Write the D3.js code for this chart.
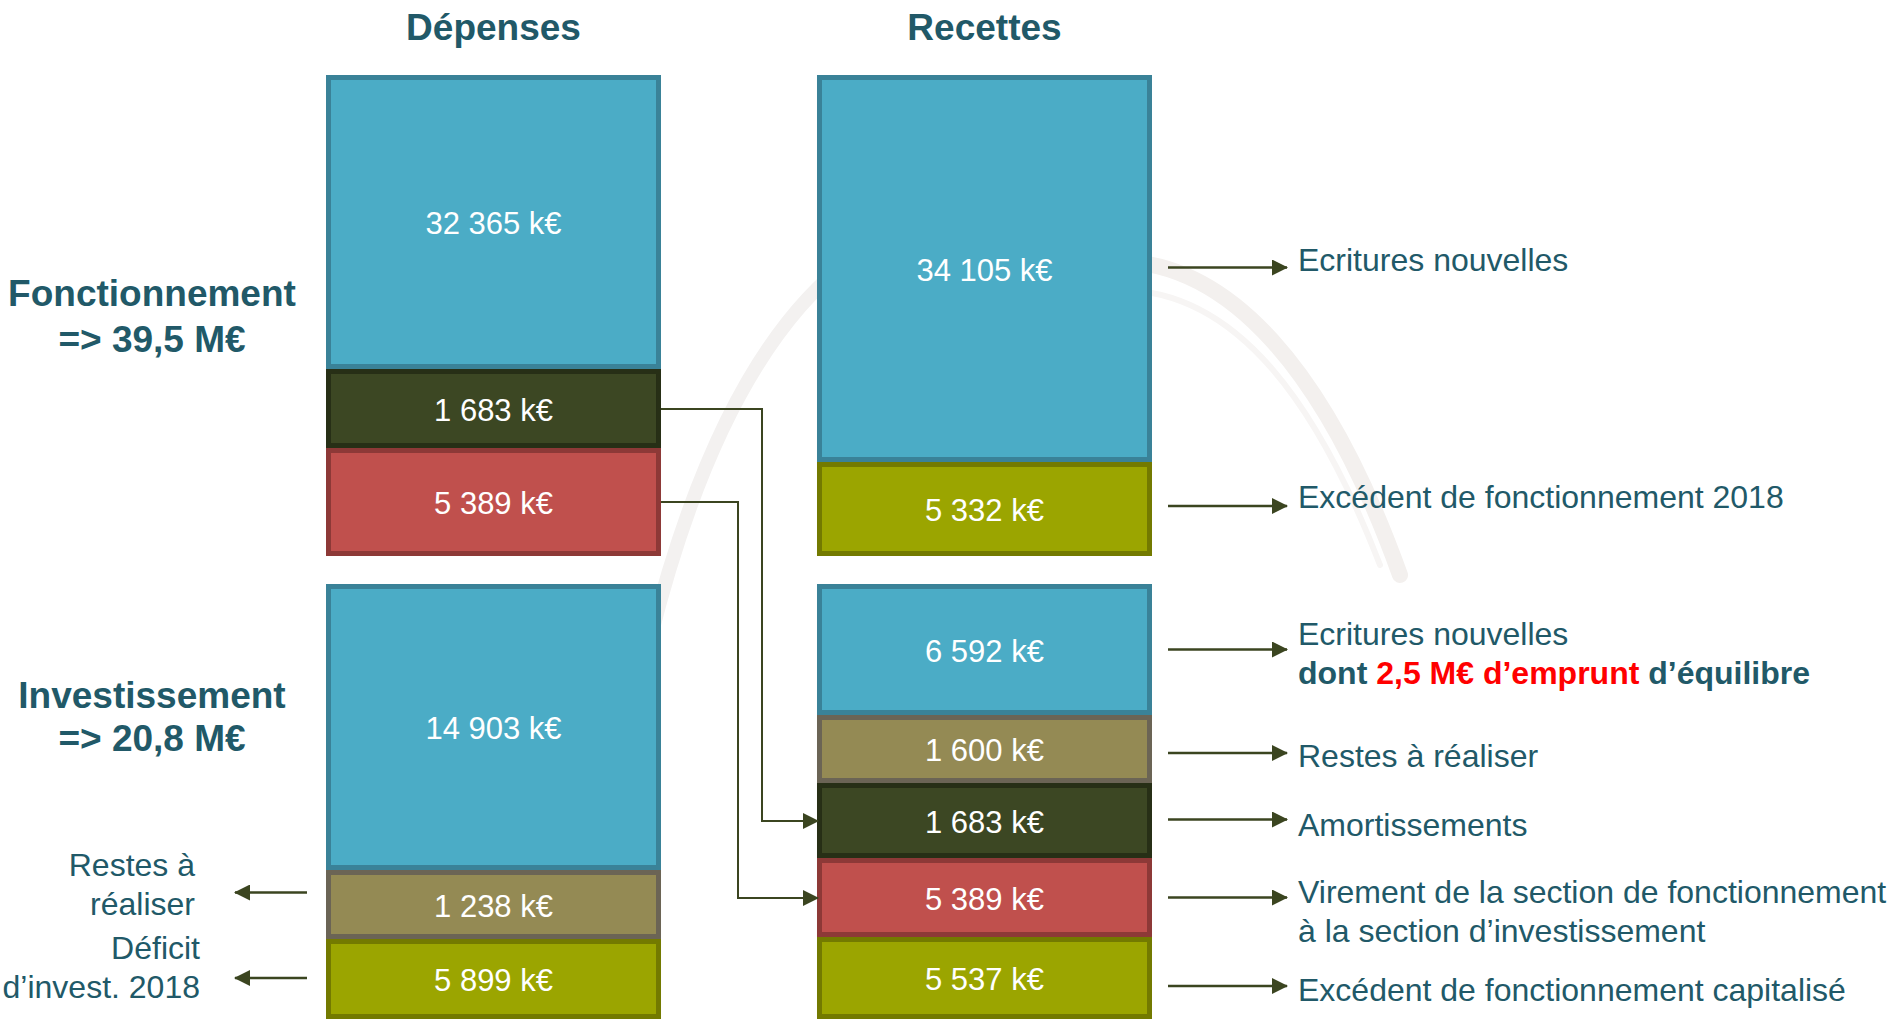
<!DOCTYPE html>
<meta charset="utf-8">
<title>Budget</title>
<style>
body { margin: 0; background: #fff; }
svg { display: block; font-family: "Liberation Sans", Arial, sans-serif; }
.val { fill: #fff; font-size: 31px; text-anchor: middle; }
.head { fill: #215968; font-size: 37px; font-weight: bold; text-anchor: middle; }
.note { fill: #215968; font-size: 32px; }
</style>
<svg></svg>
<script src="https://d3js.org/d3.v7.min.js"></script>
<script>
// columns / sections
var columns = ["Dépenses", "Recettes"];
var sections = ["Fonctionnement", "Investissement"];
var sectionTotals = ["=> 39,5 M€", "=> 20,8 M€"];

// values, k€
var depFonc = [32365, 1683, 5389];
var recFonc = [34105, 5332];
var depInv = [14903, 1238, 5899];
var recInv = [6592, 1600, 1683, 5389, 5537];

// kind of each block (drives colour)
var depFoncKind = ["new", "amort", "vir"];
var recFoncKind = ["new", "exc"];
var depInvKind = ["new", "rar", "exc"];
var recInvKind = ["new", "rar", "amort", "vir", "exc"];

// right-hand notes for the recettes blocks
var recFoncNotes = [["Ecritures nouvelles"], ["Excédent de fonctionnement 2018"]];
var recInvNotes = [
  ["Ecritures nouvelles", "dont |2,5 M€ d’emprunt| d’équilibre"],
  ["Restes à réaliser"],
  ["Amortissements"],
  ["Virement de la section de fonctionnement", "à la section d’investissement"],
  ["Excédent de fonctionnement capitalisé"]
];
// left-hand notes for the dépenses investissement blocks
var depInvNotes = [null, ["Restes à", "réaliser"], ["Déficit", "d’invest. 2018"]];

// ---- layout (the slide is a diagram, block heights are not proportional) ----
var width = 1890, height = 1019;
var spans = {
  depFonc: [294, 79, 108], recFonc: [387, 94],
  depInv: [286, 69, 80], recInv: [131, 68, 75, 79, 82]
};
var fill = { new: "#4bacc6", amort: "#3c4723", vir: "#c0504d", exc: "#9ba500", rar: "#948a54" };
var edge = { new: "#3a8298", amort: "#272f16", vir: "#8d3937", exc: "#737a00", rar: "#6b6455" };
var ink = "#3b4520";

var svg = d3.select("svg").attr("width", width).attr("height", height);

var x = d3.scaleBand().domain(columns).range([326, 1152]).paddingInner(0.3177);
var rowY = [
  d3.scaleLinear().domain([0, 481]).range([75, 556]),
  d3.scaleLinear().domain([0, 435]).range([584, 1019])
];

// faint logo swoosh in the background
var wm = svg.append("g").attr("fill", "none").attr("stroke-linecap", "round");
wm.append("path").attr("d", "M650,640 C700,440 770,320 850,260")
  .attr("stroke", "#f3f1f0").attr("stroke-width", 14);
wm.append("path").attr("d", "M1100,262 C1230,250 1330,380 1400,575")
  .attr("stroke", "#f3f0ee").attr("stroke-width", 16);
wm.append("path").attr("d", "M1120,290 C1240,290 1320,410 1380,565")
  .attr("stroke", "#f7f5f4").attr("stroke-width", 6);

// arrow heads
var defs = svg.append("defs");
defs.append("marker").attr("id", "head")
  .attr("viewBox", "0 0 16 16").attr("refX", 15).attr("refY", 8)
  .attr("markerWidth", 16).attr("markerHeight", 16)
  .attr("markerUnits", "userSpaceOnUse").attr("orient", "auto")
  .append("path").attr("d", "M0,0L16,8L0,16Z").attr("fill", ink);

function stackBlocks(values, kinds, span, col, row) {
  var y = rowY[row], acc = 0;
  var segs = values.map(function(v, i) {
    var s = { value: v, kind: kinds[i], y0: y(acc), y1: y(acc + span[i]) };
    acc += span[i];
    return s;
  });
  var g = svg.append("g");
  var x0 = x(col), bw = x.bandwidth();
  g.selectAll("rect").data(segs).enter().append("rect")
    .attr("x", x0 + 2.5).attr("y", function(d) { return d.y0 + 2.5; })
    .attr("width", bw - 5).attr("height", function(d) { return d.y1 - d.y0 - 5; })
    .attr("fill", function(d) { return fill[d.kind]; })
    .attr("stroke", function(d) { return edge[d.kind]; })
    .attr("stroke-width", 5);
  g.selectAll("text").data(segs).enter().append("text")
    .attr("class", "val")
    .attr("x", x0 + bw / 2)
    .attr("y", function(d) { return (d.y0 + d.y1) / 2; })
    .attr("dy", "0.4em")
    .text(function(d) { return d3.format(",")(d.value).replace(",", " ") + " k€"; });
  return segs;
}

var sDepFonc = stackBlocks(depFonc, depFoncKind, spans.depFonc, "Dépenses", 0);
var sRecFonc = stackBlocks(recFonc, recFoncKind, spans.recFonc, "Recettes", 0);
var sDepInv = stackBlocks(depInv, depInvKind, spans.depInv, "Dépenses", 1);
var sRecInv = stackBlocks(recInv, recInvKind, spans.recInv, "Recettes", 1);

// column titles
svg.selectAll(".colhead").data(columns).enter().append("text")
  .attr("class", "head")
  .attr("x", function(d) { return x(d) + x.bandwidth() / 2; })
  .attr("y", 40)
  .text(function(d) { return d; });

// section labels
var secBase = [rowY[0](231), rowY[1](124)];
sections.forEach(function(s, i) {
  var t = svg.append("text").attr("class", "head").attr("x", 152).attr("y", secBase[i]);
  t.append("tspan").text(s);
  t.append("tspan").attr("x", 152).attr("dy", i ? 43 : 46).text(sectionTotals[i]);
});

function mid(s) { return (s.y0 + s.y1) / 2; }

// right notes with arrows
var rightX = x("Recettes") + x.bandwidth();
var rNotes = [
  { seg: sRecFonc[0], lines: recFoncNotes[0], ady: -1, tdy: 2 },
  { seg: sRecFonc[1], lines: recFoncNotes[1], ady: -3, tdy: -1 },
  { seg: sRecInv[0], lines: recInvNotes[0], ady: 0, tdy: -5 },
  { seg: sRecInv[1], lines: recInvNotes[1], ady: 4, tdy: 18 },
  { seg: sRecInv[2], lines: recInvNotes[2], ady: -1, tdy: 15 },
  { seg: sRecInv[3], lines: recInvNotes[3], ady: 0, tdy: 5 },
  { seg: sRecInv[4], lines: recInvNotes[4], ady: 8, tdy: 23 }
];
rNotes.forEach(function(n) {
  var ay = mid(n.seg) + n.ady;
  svg.append("line").attr("x1", rightX + 16).attr("x2", rightX + 135)
    .attr("y1", ay).attr("y2", ay)
    .attr("stroke", ink).attr("stroke-width", 2.5).attr("marker-end", "url(#head)");
  var t = svg.append("text").attr("class", "note").attr("x", rightX + 146).attr("y", mid(n.seg) + n.tdy);
  n.lines.forEach(function(line, i) {
    var parts = line.split("|");
    parts.forEach(function(p, j) {
      var ts = t.append("tspan").text(p);
      if (j === 0) ts.attr("x", rightX + 146).attr("dy", i ? 39 : 0);
      if (parts.length > 1) ts.attr("font-weight", "bold");
      if (j === 1) ts.attr("fill", "#ff0000");
    });
  });
});

// left notes with arrows
var leftX = x("Dépenses");
var lNotes = [
  { seg: sDepInv[1], lines: depInvNotes[1], ady: -12, tdy: -28.5, right: 195 },
  { seg: sDepInv[2], lines: depInvNotes[2], ady: -1, tdy: -20, right: 200 }
];
lNotes.forEach(function(n) {
  var ay = mid(n.seg) + n.ady;
  svg.append("line").attr("x1", leftX - 19).attr("x2", 235)
    .attr("y1", ay).attr("y2", ay)
    .attr("stroke", ink).attr("stroke-width", 2.5).attr("marker-end", "url(#head)");
  var t = svg.append("text").attr("class", "note").attr("text-anchor", "end")
    .attr("x", n.right).attr("y", mid(n.seg) + n.tdy);
  n.lines.forEach(function(line, i) {
    t.append("tspan").attr("x", n.right).attr("dy", i ? 38.5 : 0).text(line);
  });
});

// fonctionnement -> investissement transfers
var depRight = x("Dépenses") + x.bandwidth();
var recLeft = x("Recettes");
var links = [
  { from: sDepFonc[1], to: sRecInv[2], elbow: depRight + 101 },
  { from: sDepFonc[2], to: sRecInv[3], elbow: depRight + 77 }
];
svg.selectAll(".link").data(links).enter().append("path")
  .attr("fill", "none").attr("stroke", ink).attr("stroke-width", 2)
  .attr("marker-end", "url(#head)")
  .attr("d", function(d) {
    var y0 = Math.round(mid(d.from)), y1 = Math.round(mid(d.to));
    return "M" + depRight + "," + y0 + "H" + d.elbow + "V" + y1 + "H" + (recLeft + 1);
  });
</script>
